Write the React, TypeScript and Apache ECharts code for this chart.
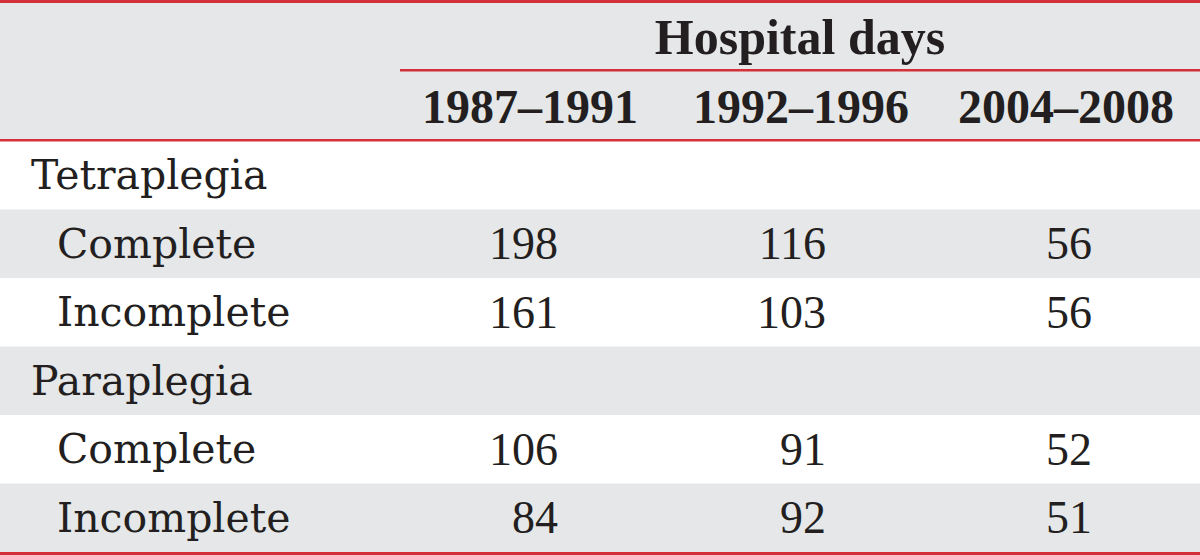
import React, { useEffect, useRef } from "react";
import * as echarts from "echarts";

const groupTitle = "Hospital days";
const periods = ["1987–1991", "1992–1996", "2004–2008"];
const rowLabels = ["Tetraplegia", "Complete", "Incomplete", "Paraplegia", "Complete", "Incomplete"];
const rowIndent = [0, 1, 1, 0, 1, 1];
const days1987 = [null, 198, 161, null, 106, 84];
const days1992 = [null, 116, 103, null, 91, 92];
const days2004 = [null, 56, 56, null, 52, 51];

const W = 1200;
const H = 555;
const RED = "#d3303a";
const GREY = "#e6e7e9";
const INK = "#231f20";
const HEADER_TOP = 3;
const HEADER_BOTTOM = 139;
const BODY_TOP = 141;
const ROW_H = 68.5;
const SPAN_LEFT = 400;
const COL_CENTER = [530, 801, 1066];
const COL_RIGHT = [558, 826, 1092];

export default function App() {
  const ref = useRef<HTMLDivElement>(null);
  useEffect(() => {
    document.body.style.margin = "0";
    const chart = echarts.init(ref.current!, null, { renderer: "svg" });
    const cols = [days1987, days1992, days2004];
    const els: any[] = [];
    els.push({ type: "rect", shape: { x: 0, y: 0, width: W, height: H }, style: { fill: "#ffffff" } });
    els.push({ type: "rect", shape: { x: 0, y: HEADER_TOP, width: W, height: HEADER_BOTTOM - HEADER_TOP }, style: { fill: GREY } });
    rowLabels.forEach((lab, i) => {
      const y0 = BODY_TOP + i * ROW_H;
      if (i % 2 === 1) {
        els.push({ type: "rect", shape: { x: 0, y: y0, width: W, height: ROW_H }, style: { fill: GREY } });
      }
      const cy = y0 + ROW_H / 2;
      els.push({
        type: "text",
        style: {
          text: lab,
          x: rowIndent[i] ? 57 : 31,
          y: cy,
          fill: INK,
          fontFamily: "DejaVu Serif",
          fontSize: 41,
          textAlign: "left",
          textVerticalAlign: "middle",
        },
      });
      cols.forEach((col, c) => {
        const v = col[i];
        if (v === null) return;
        els.push({
          type: "text",
          style: {
            text: String(v),
            x: COL_RIGHT[c],
            y: cy,
            fill: INK,
            fontFamily: "Liberation Serif",
            fontSize: 46,
            textAlign: "right",
            textVerticalAlign: "middle",
          },
        });
      });
    });
    // header texts
    els.push({
      type: "text",
      style: {
        text: groupTitle,
        x: 800,
        y: 37,
        fill: INK,
        fontFamily: "Liberation Serif",
        fontWeight: "bold",
        fontSize: 50,
        textAlign: "center",
        textVerticalAlign: "middle",
      },
    });
    periods.forEach((p, c) => {
      els.push({
        type: "text",
        style: {
          text: p,
          x: COL_CENTER[c],
          y: 106,
          fill: INK,
          fontFamily: "Liberation Serif",
          fontWeight: "bold",
          fontSize: 48,
          textAlign: "center",
          textVerticalAlign: "middle",
        },
      });
    });
    // rules
    els.push({ type: "rect", shape: { x: 0, y: 0, width: W, height: 3 }, style: { fill: RED } });
    els.push({ type: "rect", shape: { x: SPAN_LEFT, y: 69, width: W - SPAN_LEFT, height: 2.5 }, style: { fill: RED } });
    els.push({ type: "rect", shape: { x: 0, y: HEADER_BOTTOM, width: W, height: 2.5 }, style: { fill: RED } });
    els.push({ type: "rect", shape: { x: 0, y: BODY_TOP + 6 * ROW_H, width: W, height: 3 }, style: { fill: RED } });

    chart.setOption({ animation: false, graphic: { elements: els } });
    return () => chart.dispose();
  }, []);
  return <div ref={ref} style={{ width: W, height: H }} />;
}
